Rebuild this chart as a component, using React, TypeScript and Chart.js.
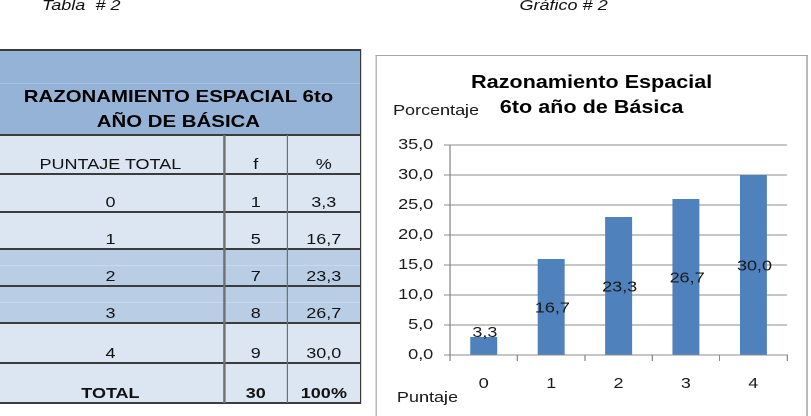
import React, { useEffect, useRef } from 'react';
import { Chart, registerables } from 'chart.js';

Chart.register(...registerables);

// ---- data ----
const categories = ['0', '1', '2', '3', '4'];
const frequencies = ['1', '5', '7', '8', '9'];
const percentLabels = ['3,3', '16,7', '23,3', '26,7', '30,0'];
const barValues = [3, 16, 23, 26, 30];
const totalFrequency = '30';
const totalPercent = '100%';
const yMin = 0;
const yMax = 35;
const yStep = 5;
const chartTitle = ['Razonamiento Espacial', '6to año de Básica'];
const yAxisTitle = 'Porcentaje';
const xAxisTitle = 'Puntaje';
const tableTitle = ['RAZONAMIENTO ESPACIAL 6to', 'AÑO DE BÁSICA'];
const tableHeaders = ['PUNTAJE TOTAL', 'f', '%'];

// ---- layout (unscaled units; whole page is stretched horizontally) ----
const SX = 1.2;
const FONT = '"Liberation Sans", Arial, Helvetica, sans-serif';
const TBL_L = -3;
const TBL_R = 300.4;
const COL_X = [TBL_L, 187, 239.4, TBL_R];
const HEAD_TOP = 50;
const ROW_Y = [135, 174, 212, 249, 286, 323, 363, 403];
const LIGHT = '#DCE6F2';
const MID = '#B9CDE5';
const HEAD = '#95B3D7';
const ROW_FILL = [LIGHT, LIGHT, LIGHT, MID, MID, LIGHT, LIGHT];

const CANVAS_L = 314;
const CANVAS_T = 57;
const CANVAS_W = 358;
const CANVAS_H = 359;

function ChartBox() {
  const ref = useRef<HTMLCanvasElement | null>(null);
  useEffect(() => {
    if (!ref.current) return;
    const textPlugin = {
      id: 'textPlugin',
      afterDatasetsDraw(chart: any) {
        const ctx = chart.ctx;
        const meta = chart.getDatasetMeta(0);
        ctx.save();
        ctx.fillStyle = '#1a1a1a';
        ctx.font = `15px ${FONT}`;
        ctx.textAlign = 'center';
        ctx.textBaseline = 'middle';
        meta.data.forEach((bar: any, i: number) => {
          const center = (bar.y + bar.base) / 2;
          const ty = Math.min(center, bar.base - 23) + 1.5;
          ctx.fillText(percentLabels[i], bar.x + 1, ty);
        });
        ctx.restore();
      },
      afterDraw(chart: any) {
        const ctx = chart.ctx;
        ctx.save();
        ctx.fillStyle = '#000';
        ctx.textAlign = 'center';
        ctx.textBaseline = 'middle';
        ctx.font = `bold 18px ${FONT}`;
        ctx.fillText(chartTitle[0], chart.width / 2, 26);
        ctx.fillText(chartTitle[1], chart.width / 2, 51);
        ctx.font = `15px ${FONT}`;
        ctx.fillStyle = '#1a1a1a';
        ctx.textAlign = 'left';
        ctx.fillText(yAxisTitle, 13.5, 54);
        ctx.fillText(xAxisTitle, 16.8, 341);
        ctx.restore();
      },
    };
    const chart = new Chart(ref.current, {
      type: 'bar',
      data: {
        labels: categories,
        datasets: [
          {
            data: barValues,
            backgroundColor: '#4F81BD',
            borderWidth: 0,
            barPercentage: 0.4,
            categoryPercentage: 1,
          },
        ],
      },
      options: {
        animation: false,
        responsive: false,
        devicePixelRatio: 2,
        layout: { padding: { top: 88, right: 16.2, left: 0, bottom: 0 } },
        plugins: {
          legend: { display: false },
          tooltip: { enabled: false },
          title: { display: false },
        },
        scales: {
          x: {
            offset: true,
            grid: {
              display: true,
              drawOnChartArea: false,
              drawTicks: true,
              tickLength: 6,
              offset: true,
              color: '#8c8c8c',
            },
            border: { display: true, color: '#8c8c8c', width: 1 },
            ticks: {
              color: '#1a1a1a',
              font: { size: 15, family: FONT },
              padding: 14,
            },
            afterFit: (s: any) => {
              s.height = 61;
            },
          },
          y: {
            min: yMin,
            max: yMax,
            ticks: {
              stepSize: yStep,
              color: '#1a1a1a',
              font: { size: 15, family: FONT },
              padding: 9,
              callback: (v: any) => Number(v).toFixed(1).replace('.', ','),
            },
            grid: { color: '#8c8c8c', lineWidth: 1, tickLength: 5, drawTicks: true },
            border: { display: true, color: '#8c8c8c', width: 1 },
            afterFit: (s: any) => {
              s.width = 61;
            },
          },
        },
      },
      plugins: [textPlugin],
    } as any);
    return () => chart.destroy();
  }, []);
  return (
    <canvas
      ref={ref}
      width={CANVAS_W}
      height={CANVAS_H}
      style={{ position: 'absolute', left: CANVAS_L, top: CANVAS_T, width: CANVAS_W, height: CANVAS_H }}
    />
  );
}

function Table() {
  const cells: any[] = [];
  const rows = [
    { vals: tableHeaders, bold: false },
    ...categories.map((c, i) => ({ vals: [c, frequencies[i], percentLabels[i]], bold: false })),
    { vals: ['TOTAL', totalFrequency, totalPercent], bold: true },
  ];
  // header fill
  cells.push(
    <div key="hfill" style={{ position: 'absolute', left: TBL_L, top: HEAD_TOP, width: TBL_R - TBL_L, height: ROW_Y[0] - HEAD_TOP, background: HEAD }} />
  );
  cells.push(
    <div key="hfaint" style={{ position: 'absolute', left: TBL_L, top: 82.5, width: TBL_R - TBL_L, height: 1, background: '#a9c3e3' }} />
  );
  cells.push(
    <div
      key="htext"
      style={{
        position: 'absolute',
        left: TBL_L,
        top: 84,
        width: TBL_R - TBL_L,
        height: 50,
        textAlign: 'center',
        fontWeight: 'bold',
        fontSize: 17,
        lineHeight: '25px',
        color: '#000',
        whiteSpace: 'nowrap',
      }}
    >
      {tableTitle[0]}
      <br />
      {tableTitle[1]}
    </div>
  );
  rows.forEach((r, ri) => {
    const top = ROW_Y[ri];
    const bottom = ROW_Y[ri + 1];
    cells.push(
      <div key={'f' + ri} style={{ position: 'absolute', left: TBL_L, top, width: TBL_R - TBL_L, height: bottom - top, background: ROW_FILL[ri] }} />
    );
    if (ROW_FILL[ri] === MID) {
      cells.push(
        <div key={'fl' + ri} style={{ position: 'absolute', left: TBL_L, top: top + 16, width: TBL_R - TBL_L, height: 1, background: '#c9d8ec' }} />
      );
    }
    r.vals.forEach((v, ci) => {
      cells.push(
        <div
          key={'c' + ri + '_' + ci}
          style={{
            position: 'absolute',
            left: COL_X[ci],
            width: COL_X[ci + 1] - COL_X[ci],
            top,
            height: bottom - top,
            display: 'flex',
            alignItems: 'flex-end',
            justifyContent: 'center',
            paddingBottom: 1,
            boxSizing: 'border-box',
            fontSize: 15,
            lineHeight: '18px',
            fontWeight: r.bold ? 'bold' : 'normal',
            color: '#111',
          }}
        >
          {v}
        </div>
      );
    });
  });
  // horizontal lines
  [HEAD_TOP, ...ROW_Y].forEach((y, i) => {
    cells.push(
      <div key={'h' + i} style={{ position: 'absolute', left: TBL_L, top: y - 0.75, width: TBL_R - TBL_L, height: 1.5, background: '#3c3c3c' }} />
    );
  });
  // vertical inner lines
  [COL_X[1], COL_X[2]].forEach((x, i) => {
    cells.push(
      <div key={'v' + i} style={{ position: 'absolute', left: x - 0.7, top: ROW_Y[0], width: 1.4, height: ROW_Y[ROW_Y.length - 1] - ROW_Y[0], background: '#707070' }} />
    );
  });
  cells.push(
    <div key="rb" style={{ position: 'absolute', left: TBL_R - 0.8, top: HEAD_TOP - 0.75, width: 1.7, height: ROW_Y[ROW_Y.length - 1] - HEAD_TOP + 1.5, background: '#3c3c3c' }} />
  );
  return <>{cells}</>;
}

export default function App() {
  return (
    <div style={{ position: 'fixed', left: 0, top: 0, width: 811, height: 416, overflow: 'hidden', background: '#fff', fontFamily: FONT }}>
      <div
        style={{
          position: 'absolute',
          left: 0,
          top: 0,
          width: 811 / SX,
          height: 416,
          transform: `scaleX(${SX})`,
          transformOrigin: '0 0',
        }}
      >
        <div style={{ position: 'absolute', left: 35, top: -4, fontStyle: 'italic', fontSize: 15, lineHeight: '17px', color: '#111', whiteSpace: 'pre' }}>
          {'Tabla  # 2'}
        </div>
        <div style={{ position: 'absolute', left: 433, top: -4, fontStyle: 'italic', fontSize: 15, lineHeight: '17px', color: '#111', whiteSpace: 'pre' }}>
          {'Gráfico # 2'}
        </div>
        <Table />
        <div
          style={{
            position: 'absolute',
            left: 312.5,
            top: 55,
            width: 360.8,
            height: 370,
            boxSizing: 'border-box',
            border: '1.4px solid #a6a6a6',
            borderRight: '1.8px solid #8a8a8a',
          }}
        />
        <ChartBox />
      </div>
    </div>
  );
}
